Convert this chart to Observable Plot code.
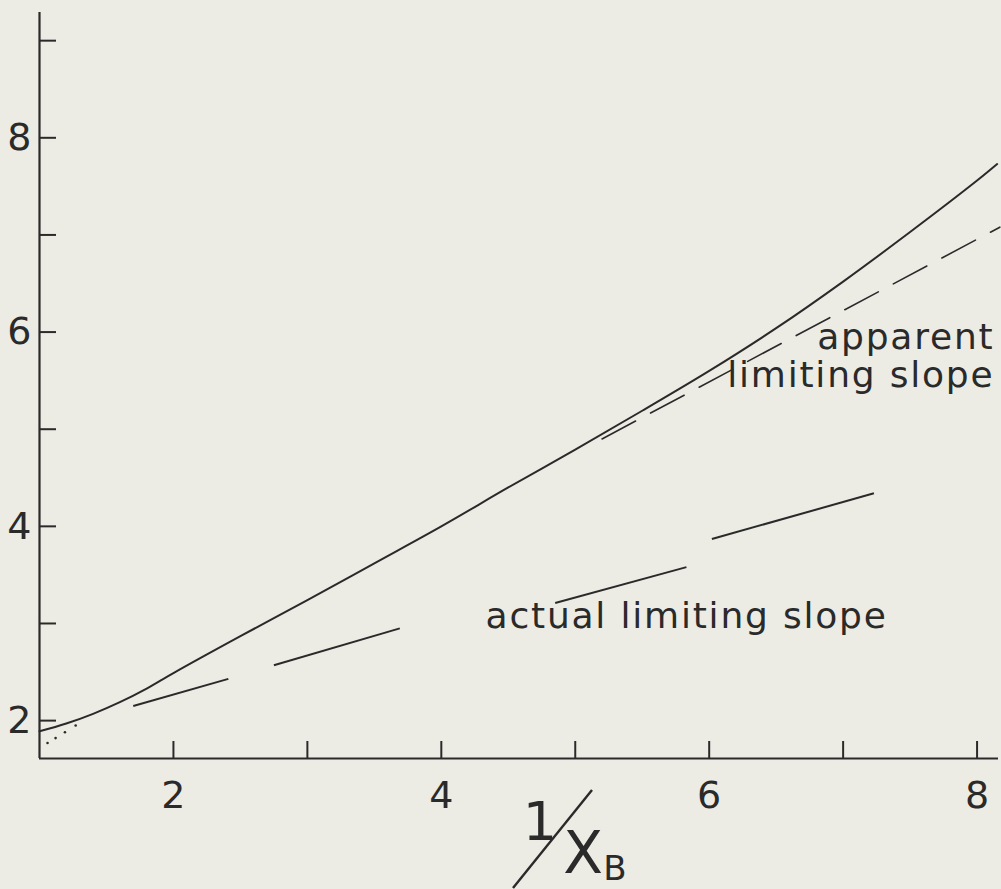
<!DOCTYPE html>
<html>
<head>
<meta charset="utf-8">
<script src="https://cdn.jsdelivr.net/npm/d3@7"></script>
<script src="https://cdn.jsdelivr.net/npm/@observablehq/plot@0.6"></script>
<style>
  html, body { margin: 0; padding: 0; background: #edece4; }
  svg { display: block; }
  g[aria-description="annotation"] text { letter-spacing: 1.8px; }
</style>
</head>
<body>
<div id="chart"></div>
<script>
// Axis ticks and labels
const xTicks = [2, 3, 4, 5, 6, 7, 8];
const yTicks = [2, 3, 4, 5, 6, 7, 8, 9];
const xLabels = [2, 4, 6, 8];
const yLabels = [2, 4, 6, 8];

// Measured curve against 1/x_B
const curveX = [1.0, 1.2, 1.4, 1.6, 1.8, 2.0, 2.5, 3.0, 3.5, 4.0, 4.5, 5.0, 5.5, 6.0, 6.5, 7.0, 7.5, 8.0, 8.15];
const curveY = [1.89, 1.97, 2.07, 2.19, 2.33, 2.49, 2.87, 3.24, 3.62, 4.00, 4.40, 4.79, 5.19, 5.60, 6.04, 6.52, 7.03, 7.56, 7.73];

// Scattered points near the origin
const dotX = [1.06, 1.12, 1.19, 1.27];
const dotY = [1.77, 1.82, 1.88, 1.95];

// Apparent limiting slope (dashed tangent)
const apparentX = [5.2, 8.17];
const apparentY = [4.90, 7.08];

// Actual limiting slope, drawn as long separate strokes
const actualX1 = [1.70, 2.75, 4.85, 6.02];
const actualY1 = [2.15, 2.57, 3.21, 3.87];
const actualX2 = [2.41, 3.69, 5.83, 7.23];
const actualY2 = [2.43, 2.95, 3.58, 4.34];

const ink = "#2a2a2a";
const font = "DejaVu Sans";

const W = 1001, H = 889;
const mL = 39, mR = 3, mT = 12, mB = 131;
const frameW = W - mL - mR, frameH = H - mT - mB;
const tickLen = 17;

const curve = curveX.map((x, i) => ({x, y: curveY[i]}));
const dots = dotX.map((x, i) => ({x, y: dotY[i]}));
const apparent = apparentX.map((x, i) => ({x, y: apparentY[i]}));
const actual = actualX1.map((x1, i) => ({x1, y1: actualY1[i], x2: actualX2[i], y2: actualY2[i]}));

const labelStyle = {fontSize: 36, fill: ink, ariaDescription: "annotation"};

const chart = Plot.plot({
  width: W,
  height: H,
  marginLeft: mL,
  marginRight: mR,
  marginTop: mT,
  marginBottom: mB,
  x: {domain: [1, 8.16], axis: null},
  y: {domain: [1.61, 9.29], axis: null},
  style: {background: "#edece4", color: ink, fontFamily: font},
  marks: [
    // axis lines
    Plot.ruleX([1], {stroke: ink, strokeWidth: 2.2}),
    Plot.ruleY([1.61], {stroke: ink, strokeWidth: 2.2}),
    // inward ticks
    Plot.ruleX(xTicks, {x: d => d, insetTop: frameH - tickLen, stroke: ink, strokeWidth: 2}),
    Plot.ruleY(yTicks, {y: d => d, insetRight: frameW - tickLen, stroke: ink, strokeWidth: 2}),
    // tick labels
    Plot.text(xLabels, {x: d => d, frameAnchor: "bottom", dy: 37, text: d => String(d),
      fontSize: 38, fill: ink, lineAnchor: "middle"}),
    Plot.text(yLabels, {y: d => d, frameAnchor: "left", dx: -8, text: d => String(d),
      fontSize: 38, fill: ink, textAnchor: "end", lineAnchor: "middle"}),
    // data
    Plot.line(curve, {x: "x", y: "y", curve: "catmull-rom", stroke: ink, strokeWidth: 2}),
    Plot.dot(dots, {x: "x", y: "y", r: 1.3, fill: ink, stroke: null}),
    Plot.line(apparent, {x: "x", y: "y", stroke: ink, strokeWidth: 1.6, strokeDasharray: "38 17"}),
    Plot.link(actual, {x1: "x1", y1: "y1", x2: "x2", y2: "y2", stroke: ink, strokeWidth: 2}),
    // annotations
    Plot.text(["apparent\nlimiting slope"], {x: 8.13, y: 5.43, text: d => d, textAnchor: "end",
      lineAnchor: "bottom", lineHeight: 1.08, ...labelStyle}),
    Plot.text(["actual limiting slope"], {x: 4.33, y: 2.95, text: d => d, textAnchor: "start",
      lineAnchor: "bottom", ...labelStyle})
  ]
});

// x-axis title: 1 / X_B set as a slanted fraction
const svg = d3.select(chart);
const t = svg.append("g").attr("fill", ink).attr("font-family", font);
t.append("text").attr("x", 540).attr("y", 840).attr("text-anchor", "middle").attr("font-size", 54).text("1");
t.append("text").attr("x", 583).attr("y", 873).attr("text-anchor", "middle").attr("font-size", 58).text("X");
t.append("text").attr("x", 615).attr("y", 880).attr("text-anchor", "middle").attr("font-size", 34).text("B");
svg.append("line").attr("x1", 513).attr("y1", 888).attr("x2", 592).attr("y2", 790)
  .attr("stroke", ink).attr("stroke-width", 2.4);

document.getElementById("chart").appendChild(chart);
</script>
</body>
</html>
